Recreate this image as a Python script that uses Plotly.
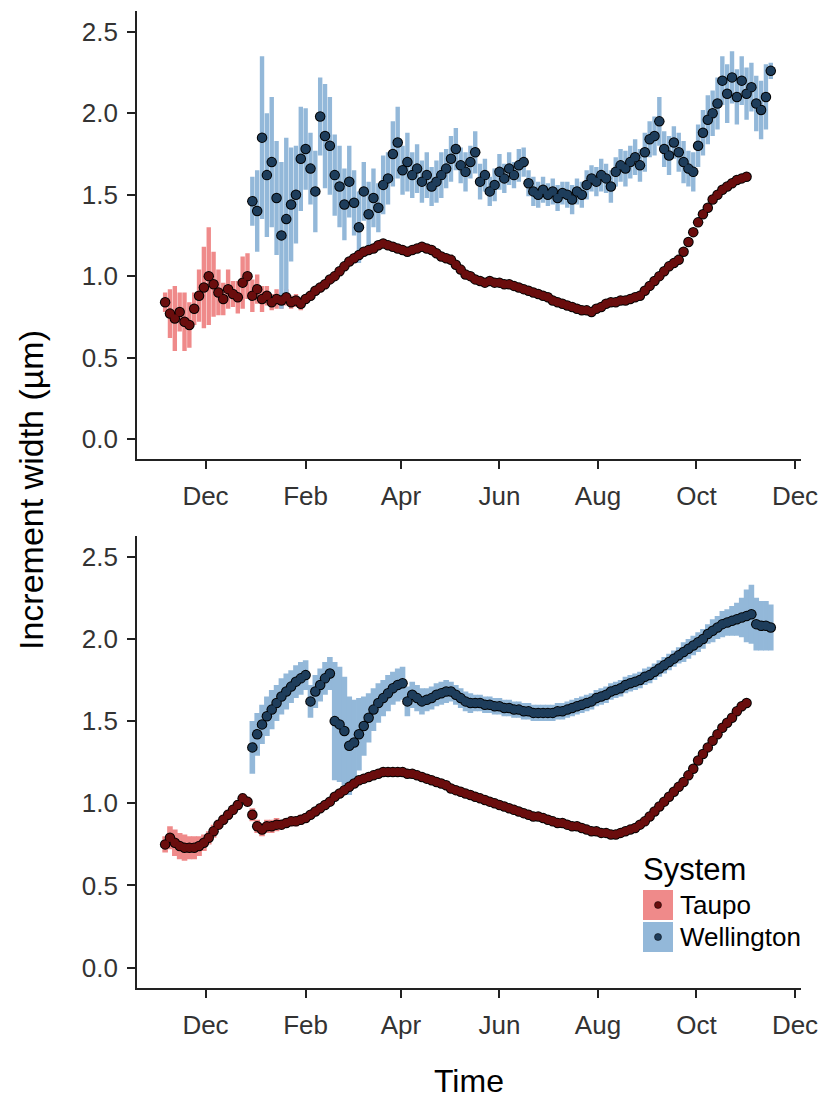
import pandas as pd
import plotly.graph_objects as go

# ---- raw increment widths (every third day) with standard errors ----
taupo_raw_start = "2013-11-06"
taupo_raw = [
    0.84, 0.77, 0.74, 0.78, 0.72, 0.70, 0.80, 0.88, 0.93, 1.00,
    0.95, 0.90, 0.86, 0.92, 0.89, 0.87, 0.96, 1.00, 0.88, 0.92,
    0.86, 0.88, 0.84, 0.86, 0.85, 0.87, 0.84, 0.85, 0.83, 0.86,
    0.88, 0.91, 0.93, 0.95, 0.98, 1.00, 1.03, 1.06, 1.09, 1.11,
    1.13, 1.15, 1.16, 1.17, 1.19, 1.20, 1.19, 1.18, 1.17, 1.16,
    1.15, 1.16, 1.17, 1.18, 1.17, 1.16, 1.14, 1.12, 1.11, 1.10,
    1.07, 1.04, 1.01, 1.00, 0.98, 0.97, 0.96, 0.97, 0.96, 0.96,
    0.95, 0.95, 0.94, 0.93, 0.92, 0.91, 0.90, 0.89, 0.88, 0.87,
    0.85, 0.84, 0.83, 0.82, 0.81, 0.80, 0.79, 0.79, 0.78, 0.80,
    0.81, 0.83, 0.84, 0.84, 0.85, 0.85, 0.86, 0.87, 0.88, 0.91,
    0.94, 0.97, 1.00, 1.03, 1.06, 1.08, 1.10, 1.15, 1.21, 1.27,
    1.33, 1.38, 1.42, 1.47, 1.50, 1.53, 1.55, 1.57, 1.59, 1.60,
    1.61,
]
taupo_raw_se = [
    0.06, 0.15, 0.20, 0.12, 0.18, 0.14, 0.10, 0.16, 0.25, 0.30,
    0.20, 0.14, 0.10, 0.12, 0.08, 0.10, 0.16, 0.14, 0.10, 0.09,
    0.08, 0.06, 0.05, 0.06, 0.05, 0.05, 0.04, 0.04, 0.04, 0.03,
    0.03, 0.03, 0.03, 0.03, 0.02, 0.03, 0.02, 0.02, 0.02, 0.02,
    0.02, 0.02, 0.02, 0.02, 0.02, 0.02, 0.02, 0.02, 0.02, 0.02,
    0.02, 0.02, 0.02, 0.02, 0.02, 0.02, 0.02, 0.02, 0.02, 0.02,
    0.02, 0.02, 0.02, 0.02, 0.02, 0.02, 0.02, 0.02, 0.02, 0.02,
    0.02, 0.02, 0.02, 0.02, 0.02, 0.02, 0.02, 0.02, 0.02, 0.02,
    0.02, 0.02, 0.02, 0.02, 0.02, 0.02, 0.02, 0.02, 0.02, 0.02,
    0.02, 0.02, 0.02, 0.02, 0.02, 0.02, 0.02, 0.02, 0.02, 0.02,
    0.02, 0.02, 0.02, 0.02, 0.02, 0.02, 0.02, 0.02, 0.02, 0.02,
    0.02, 0.02, 0.02, 0.02, 0.02, 0.02, 0.02, 0.02, 0.02, 0.02,
    0.02,
]

wellington_raw_start = "2013-12-30"
wellington_raw = [
    1.46, 1.40, 1.85, 1.62, 1.70, 1.48, 1.25, 1.35, 1.44, 1.50,
    1.72, 1.78, 1.66, 1.52, 1.98, 1.86, 1.80, 1.62, 1.55, 1.44,
    1.58, 1.45, 1.30, 1.52, 1.38, 1.48, 1.42, 1.56, 1.60, 1.75,
    1.82, 1.65, 1.70, 1.62, 1.66, 1.58, 1.62, 1.55, 1.58, 1.62,
    1.66, 1.72, 1.78, 1.68, 1.64, 1.70, 1.76, 1.58, 1.62, 1.52,
    1.56, 1.64, 1.60, 1.66, 1.62, 1.68, 1.70, 1.57, 1.52, 1.50,
    1.53, 1.50, 1.52, 1.48, 1.51, 1.50, 1.47, 1.52, 1.50, 1.56,
    1.60, 1.58, 1.62, 1.60, 1.55, 1.64, 1.68, 1.66, 1.70, 1.73,
    1.68, 1.76, 1.84, 1.86, 1.95, 1.78, 1.74, 1.82, 1.76, 1.70,
    1.66, 1.64, 1.80, 1.88, 1.96, 2.00, 2.06, 2.20, 2.12, 2.22,
    2.10, 2.20, 2.12, 2.16, 2.06, 2.02, 2.10, 2.26,
]
wellington_raw_se = [
    0.15, 0.25, 0.50, 0.38, 0.40, 0.35, 0.45, 0.50, 0.35, 0.30,
    0.32, 0.25, 0.22, 0.25, 0.24, 0.32, 0.30, 0.25, 0.25, 0.22,
    0.22, 0.20, 0.22, 0.18, 0.20, 0.18, 0.15, 0.18, 0.16, 0.20,
    0.22, 0.15, 0.18, 0.14, 0.15, 0.13, 0.14, 0.12, 0.13, 0.14,
    0.12, 0.14, 0.13, 0.11, 0.12, 0.10, 0.13, 0.11, 0.10, 0.09,
    0.10, 0.11, 0.09, 0.10, 0.08, 0.10, 0.09, 0.08, 0.09, 0.08,
    0.08, 0.07, 0.08, 0.08, 0.07, 0.08, 0.09, 0.08, 0.08, 0.09,
    0.08, 0.09, 0.10, 0.09, 0.10, 0.09, 0.10, 0.11, 0.10, 0.11,
    0.10, 0.12, 0.11, 0.12, 0.15, 0.11, 0.12, 0.10, 0.12, 0.13,
    0.11, 0.12, 0.13, 0.14, 0.15, 0.14, 0.16, 0.15, 0.18, 0.16,
    0.17, 0.15, 0.16, 0.15, 0.17, 0.18, 0.20, 0.05,
]

# ---- model-fitted increment widths with standard errors ----
taupo_fit = [
    0.75, 0.79, 0.76, 0.74, 0.73, 0.73, 0.73, 0.74, 0.76, 0.79,
    0.83, 0.87, 0.90, 0.93, 0.96, 0.99, 1.03, 1.01, 0.93, 0.86,
    0.84, 0.86, 0.86, 0.87, 0.87, 0.88, 0.89, 0.89, 0.90, 0.91,
    0.93, 0.95, 0.97, 0.99, 1.01, 1.04, 1.06, 1.08, 1.10, 1.12,
    1.14, 1.15, 1.16, 1.17, 1.18, 1.19, 1.19, 1.19, 1.19, 1.19,
    1.18, 1.18, 1.17, 1.16, 1.15, 1.14, 1.13, 1.12, 1.11, 1.09,
    1.08, 1.07, 1.06, 1.05, 1.04, 1.03, 1.02, 1.01, 1.00, 0.99,
    0.98, 0.97, 0.96, 0.95, 0.94, 0.93, 0.92, 0.92, 0.91, 0.90,
    0.89, 0.88, 0.88, 0.87, 0.86, 0.86, 0.85, 0.84, 0.83, 0.83,
    0.82, 0.82, 0.81, 0.81, 0.82, 0.83, 0.84, 0.85, 0.87, 0.89,
    0.92, 0.95, 0.98, 1.01, 1.04, 1.07, 1.10, 1.13, 1.17, 1.21,
    1.26, 1.30, 1.34, 1.38, 1.42, 1.46, 1.49, 1.52, 1.56, 1.59,
    1.61,
]
taupo_fit_se = [
    0.05, 0.07, 0.08, 0.08, 0.08, 0.07, 0.07, 0.06, 0.05, 0.04,
    0.04, 0.03, 0.03, 0.03, 0.03, 0.03, 0.03, 0.03, 0.04, 0.04,
    0.04, 0.04, 0.04, 0.04, 0.03, 0.03, 0.03, 0.03, 0.03, 0.03,
    0.02, 0.02, 0.02, 0.02, 0.02, 0.02, 0.02, 0.02, 0.02, 0.02,
    0.02, 0.02, 0.02, 0.02, 0.02, 0.02, 0.02, 0.02, 0.02, 0.02,
    0.02, 0.02, 0.02, 0.02, 0.02, 0.02, 0.02, 0.02, 0.02, 0.02,
    0.02, 0.02, 0.02, 0.02, 0.02, 0.02, 0.02, 0.02, 0.02, 0.02,
    0.02, 0.02, 0.02, 0.02, 0.02, 0.02, 0.02, 0.02, 0.02, 0.02,
    0.02, 0.02, 0.02, 0.02, 0.02, 0.02, 0.02, 0.02, 0.02, 0.02,
    0.02, 0.02, 0.02, 0.02, 0.02, 0.02, 0.02, 0.02, 0.02, 0.02,
    0.02, 0.02, 0.02, 0.02, 0.02, 0.02, 0.02, 0.02, 0.02, 0.02,
    0.02, 0.02, 0.02, 0.02, 0.02, 0.02, 0.02, 0.02, 0.02, 0.02,
    0.02,
]

wellington_fit = [
    1.34, 1.42, 1.48, 1.53, 1.57, 1.61, 1.65, 1.68, 1.71, 1.74,
    1.76, 1.78, 1.62, 1.68, 1.72, 1.76, 1.79, 1.50, 1.48, 1.44,
    1.35, 1.37, 1.42, 1.47, 1.52, 1.57, 1.61, 1.64, 1.67, 1.70,
    1.72, 1.73, 1.62, 1.66, 1.64, 1.62, 1.63, 1.64, 1.66, 1.67,
    1.68, 1.68, 1.66, 1.64, 1.62, 1.61, 1.61, 1.61, 1.60, 1.60,
    1.59, 1.59, 1.58, 1.58, 1.57, 1.57, 1.56, 1.56, 1.55, 1.55,
    1.55, 1.55, 1.55, 1.56, 1.56, 1.57, 1.58, 1.59, 1.60, 1.61,
    1.62, 1.64, 1.65, 1.66, 1.68, 1.69, 1.70, 1.72, 1.73, 1.74,
    1.75, 1.77, 1.78, 1.80, 1.82, 1.84, 1.86, 1.88, 1.90, 1.92,
    1.94, 1.96, 1.98, 2.00, 2.03, 2.05, 2.07, 2.09, 2.10, 2.11,
    2.12, 2.13, 2.14, 2.15, 2.09, 2.08, 2.08, 2.07,
]
wellington_fit_se = [
    0.16, 0.13, 0.12, 0.12, 0.12, 0.11, 0.11, 0.11, 0.10, 0.10,
    0.10, 0.09, 0.10, 0.10, 0.10, 0.10, 0.10, 0.36, 0.35, 0.33,
    0.30, 0.26, 0.22, 0.18, 0.15, 0.13, 0.12, 0.11, 0.11, 0.10,
    0.10, 0.10, 0.09, 0.08, 0.08, 0.08, 0.07, 0.07, 0.07, 0.07,
    0.07, 0.06, 0.06, 0.06, 0.06, 0.06, 0.05, 0.05, 0.05, 0.05,
    0.05, 0.05, 0.05, 0.05, 0.05, 0.05, 0.05, 0.05, 0.05, 0.05,
    0.05, 0.05, 0.05, 0.05, 0.05, 0.05, 0.05, 0.05, 0.05, 0.05,
    0.05, 0.05, 0.05, 0.05, 0.05, 0.05, 0.05, 0.05, 0.05, 0.05,
    0.05, 0.05, 0.05, 0.05, 0.05, 0.05, 0.05, 0.05, 0.05, 0.06,
    0.06, 0.06, 0.06, 0.06, 0.06, 0.07, 0.07, 0.08, 0.08, 0.09,
    0.10, 0.12, 0.16, 0.18, 0.16, 0.15, 0.15, 0.14,
]

# ---- axes ----
x_range = ["2013-10-19 14:00", "2014-12-04 17:00"]
month_ticks = ["2013-12-01", "2014-02-01", "2014-04-01", "2014-06-01",
               "2014-08-01", "2014-10-01", "2014-12-01"]
month_labels = ["Dec", "Feb", "Apr", "Jun", "Aug", "Oct", "Dec"]
y_ticks = [0.0, 0.5, 1.0, 1.5, 2.0, 2.5]
y_labels = ["0.0", "0.5", "1.0", "1.5", "2.0", "2.5"]

systems = ["Taupo", "Wellington"]
band_colour = {"Taupo": "#EF8A8A", "Wellington": "#93B8D9"}
point_colour = {"Taupo": "#6A0D0D", "Wellington": "#1E3D5B"}

FONT = "Liberation Sans, Arial, sans-serif"
W, H = 820, 1102


def dates_for(start, values):
    return list(pd.date_range(start, periods=len(values), freq="3D"))


def ranges(dates, vals, se):
    xs, ys = [], []
    for d, v, s in zip(dates, vals, se):
        xs += [d, d, None]
        ys += [v - s, v + s, None]
    return xs, ys


panels = [
    ("x", "y", {"Taupo": (taupo_raw_start, taupo_raw, taupo_raw_se),
                "Wellington": (wellington_raw_start, wellington_raw, wellington_raw_se)}, 4.4),
    ("x2", "y2", {"Taupo": (taupo_raw_start, taupo_fit, taupo_fit_se),
                  "Wellington": (wellington_raw_start, wellington_fit, wellington_fit_se)}, 5.6),
]

fig = go.Figure()
for xa, ya, series, bar_w in panels:
    # error ranges first so every point sits on top of every range
    for s in systems:
        start, vals, se = series[s]
        d = dates_for(start, vals)
        bx, by = ranges(d, vals, se)
        fig.add_trace(go.Scatter(x=bx, y=by, mode="lines", xaxis=xa, yaxis=ya,
                                 line=dict(color=band_colour[s], width=bar_w),
                                 hoverinfo="skip", showlegend=False))
    # dark rim under the points, then the coloured points themselves
    for s in systems:
        start, vals, se = series[s]
        d = dates_for(start, vals)
        fig.add_trace(go.Scatter(x=d, y=vals, mode="markers", xaxis=xa, yaxis=ya,
                                 marker=dict(size=10.5, color="black", line=dict(width=0)),
                                 hoverinfo="skip", showlegend=False))
    for s in systems:
        start, vals, se = series[s]
        d = dates_for(start, vals)
        fig.add_trace(go.Scatter(x=d, y=vals, mode="markers", xaxis=xa, yaxis=ya,
                                 marker=dict(size=8.5, color=point_colour[s], line=dict(width=0)),
                                 name=s, showlegend=False))

axis_common = dict(showgrid=False, zeroline=False, showline=True, linecolor="#222",
                   linewidth=1.6, ticks="outside", ticklen=8, tickwidth=1.6,
                   tickcolor="#222", automargin=False,
                   tickfont=dict(family=FONT, size=26, color="#333333"))

x_dom = [137 / W, 801 / W]
top_dom = [1 - 459.4 / H, 1 - 11.4 / H]
bot_dom = [1 - 988.2 / H, 1 - 536.2 / H]

xaxis_cfg = dict(axis_common, type="date", range=x_range, tickvals=month_ticks,
                 ticktext=month_labels, ticklabelstandoff=5)
yaxis_cfg = dict(axis_common, range=[-0.125, 2.625], tickvals=y_ticks,
                 ticktext=y_labels, ticklabelstandoff=4)

fig.update_layout(
    width=W, height=H, autosize=False,
    margin=dict(l=0, r=0, t=0, b=0),
    paper_bgcolor="white", plot_bgcolor="white",
    xaxis=dict(xaxis_cfg, domain=x_dom, anchor="y"),
    yaxis=dict(yaxis_cfg, domain=top_dom, anchor="x"),
    xaxis2=dict(xaxis_cfg, domain=x_dom, anchor="y2"),
    yaxis2=dict(yaxis_cfg, domain=bot_dom, anchor="x2"),
    showlegend=False,
)

# axis titles
fig.add_annotation(text="Increment width (µm)", xref="paper", yref="paper",
                   x=31 / W, y=1 - 490 / H, xanchor="center", yanchor="middle",
                   textangle=-90, showarrow=False,
                   font=dict(family=FONT, size=34, color="black"))
fig.add_annotation(text="Time", xref="paper", yref="paper",
                   x=469 / W, y=1 - 1081 / H, xanchor="center", yanchor="middle",
                   showarrow=False,
                   font=dict(family=FONT, size=32, color="black"))

# legend for the fitted panel
fig.add_annotation(text="System", xref="paper", yref="paper", x=641 / W, y=1 - 869 / H,
                   xanchor="left", yanchor="middle", showarrow=False,
                   font=dict(family=FONT, size=31, color="black"))
key_top = 890
for i, s in enumerate(systems):
    y0 = key_top + i * 32
    fig.add_shape(type="rect", xref="paper", yref="paper",
                  x0=643 / W, x1=673 / W, y0=1 - (y0 + 30) / H, y1=1 - y0 / H,
                  fillcolor=band_colour[s], line=dict(width=0))
    fig.add_shape(type="circle", xref="paper", yref="paper",
                  x0=654.5 / W, x1=661.5 / W, y0=1 - (y0 + 18.5) / H, y1=1 - (y0 + 11.5) / H,
                  fillcolor=point_colour[s], line=dict(color="black", width=0.5))
    fig.add_annotation(text=s, xref="paper", yref="paper", x=678 / W, y=1 - (y0 + 15) / H,
                       xanchor="left", yanchor="middle", showarrow=False,
                       font=dict(family=FONT, size=26, color="black"))

fig.write_html("out.html")
